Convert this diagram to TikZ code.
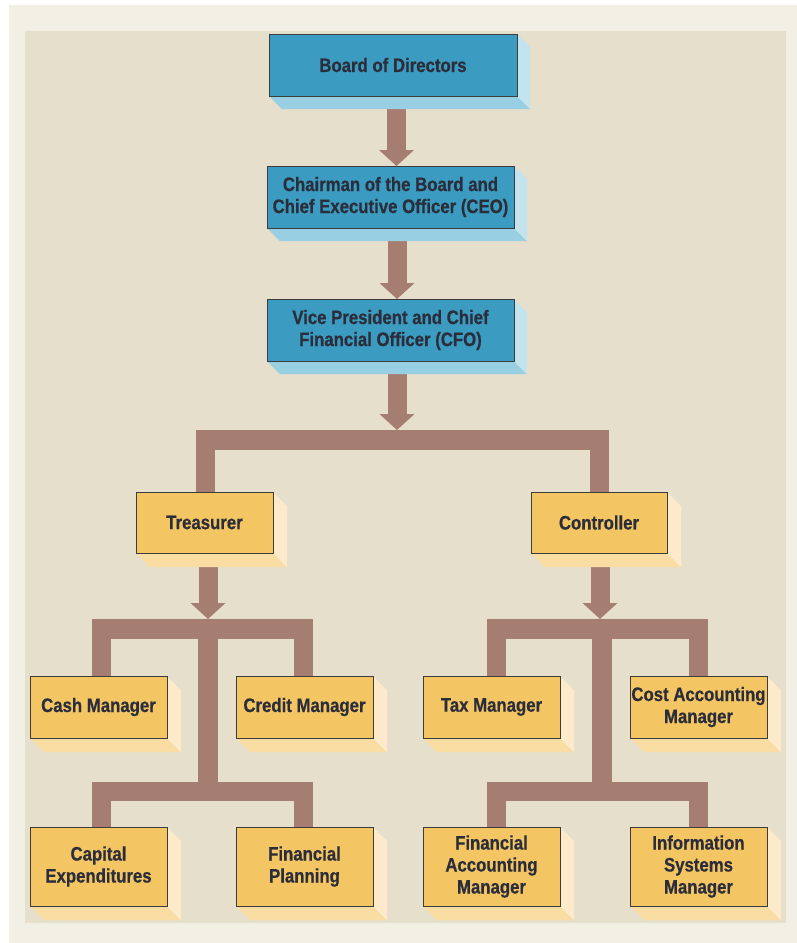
\documentclass[tikz,border=0pt]{standalone}
\usepackage{fontspec}
\setmainfont{Liberation Sans}[FakeStretch=0.86,FakeBold=0.6]
\usetikzlibrary{arrows.meta,calc}
\pgfdeclarelayer{back}\pgfdeclarelayer{bg}\pgfdeclarelayer{shad}
\pgfsetlayers{back,bg,shad,main}
\definecolor{outercream}{HTML}{F2EFE4}
\definecolor{panel}{HTML}{E5DFCC}
\definecolor{bluef}{HTML}{3B9BC0}
\definecolor{blueb}{HTML}{99CFE2}
\definecolor{bluer}{HTML}{C3E4EF}
\definecolor{yelf}{HTML}{F4C563}
\definecolor{yelb}{HTML}{F9DDA3}
\definecolor{yelr}{HTML}{FCEACB}
\definecolor{brn}{HTML}{A67E71}
\definecolor{boxline}{HTML}{3C3C3C}
\definecolor{txt}{HTML}{2B2E3A}
\newcommand\shd[4]{\begin{pgfonlayer}{shad}
\fill[#3] (#1.south west) -- (#1.south east) -- ($(#1.south east)+(#2,#2)$) -- ($(#1.south west)+(#2,#2)$) -- cycle;
\fill[#4] (#1.north east) -- ($(#1.north east)+(#2,#2)$) -- ($(#1.south east)+(#2,#2)$) -- (#1.south east) -- cycle;
\end{pgfonlayer}}
\begin{document}
\begin{tikzpicture}[x=1pt,y=-1pt,
  boxbase/.style={draw=boxline,line width=0.9pt,outer sep=0pt,inner sep=0pt,align=center,
    text=txt,font=\bfseries\fontsize{19.5}{22}\selectfont},
  bluebox/.style={boxbase,fill=bluef,minimum width=247pt,minimum height=62pt},
  ybox/.style={boxbase,fill=yelf,minimum width=137pt,minimum height=62pt},
  ytall/.style={ybox,minimum height=79pt},
  conn/.style={draw=brn,line width=19.5pt,line join=miter,line cap=butt},
  arr/.style={draw=brn,line width=19pt,line cap=butt,-{Triangle[width=35pt,length=16pt,line width=0pt]}}]
\useasboundingbox (0,0) rectangle (797,943);
\begin{pgfonlayer}{back}
\fill[white] (0,0) rectangle (797,943);
\fill[outercream] (9,5) rectangle (797,943);
\fill[panel] (25,31) rectangle (786,923);
\end{pgfonlayer}

% top chain
\node[bluebox,minimum width=248pt] (board) at (393,65) {Board of Directors};
\node[bluebox] (ceo) at (390.5,197) {Chairman of the Board and\\Chief Executive Officer (CEO)};
\node[bluebox] (cfo) at (390.5,330) {Vice President and Chief\\Financial Officer (CFO)};
\shd{board}{13}{blueb}{bluer}
\shd{ceo}{13}{blueb}{bluer}
\shd{cfo}{13}{blueb}{bluer}

% second level
\node[ybox,minimum height=61pt] (treas) at (204.5,522.5) {Treasurer};
\node[ybox,minimum width=136pt,minimum height=61pt] (ctrl) at (599,522.5) {Controller};
\shd{treas}{14}{yelb}{yelr}
\shd{ctrl}{14}{yelb}{yelr}

% third level
\node[ybox] (cash) at (98.5,707) {Cash Manager};
\node[ybox] (credit) at (304.5,707) {Credit Manager};
\node[ybox] (tax) at (491.5,707) {Tax Manager};
\node[ybox] (cost) at (698.5,707) {Cost Accounting\\Manager};
\node[ytall] (capex) at (98.5,866.5) {Capital\\Expenditures};
\node[ytall] (finplan) at (304.5,866.5) {Financial\\Planning};
\node[ytall] (finacct) at (491.5,866.5) {Financial\\Accounting\\Manager};
\node[ytall] (infosys) at (698.5,866.5) {Information\\Systems\\Manager};
\foreach \n in {cash,credit,tax,cost,capex,finplan,finacct,infosys}{\shd{\n}{14}{yelb}{yelr}}

% split points
\coordinate (s1) at (397,440);
\coordinate (s1top) at (397,430);
\coordinate (t1) at (208,629);
\coordinate (t1top) at (208,619);
\coordinate (t2) at (208,791.5);
\coordinate (t3) at (602,629);
\coordinate (t3top) at (600,619);
\coordinate (t4) at (602,791.5);

\begin{pgfonlayer}{bg}
\draw[arr] ([xshift=3.5pt]board.south) -- ([xshift=3.5pt]board.south |- ceo.north);
\draw[arr] ([xshift=6.5pt]ceo.south) -- ([xshift=6.5pt]ceo.south |- cfo.north);
\draw[arr] ([xshift=6.5pt]cfo.south) -- (s1top);
\draw[conn] ([xshift=1pt]treas.north) |- (s1) -| ([xshift=0.5pt]ctrl.north);

\draw[arr] ([xshift=3.5pt]treas.south) -- (t1top);
\draw[conn] ([xshift=3pt]cash.north) |- (t1) -| ([xshift=-1pt]credit.north);
\draw[conn] (t1) -- (t2);
\draw[conn] ([xshift=3pt]capex.north) |- (t2) -| ([xshift=-1pt]finplan.north);

\draw[arr] ([xshift=1pt]ctrl.south) -- (t3top);
\draw[conn] ([xshift=5pt]tax.north) |- (t3) -| (cost.north);
\draw[conn] (t3) -- (t4);
\draw[conn] ([xshift=5pt]finacct.north) |- (t4) -| (infosys.north);
\end{pgfonlayer}
\end{tikzpicture}
\end{document}
